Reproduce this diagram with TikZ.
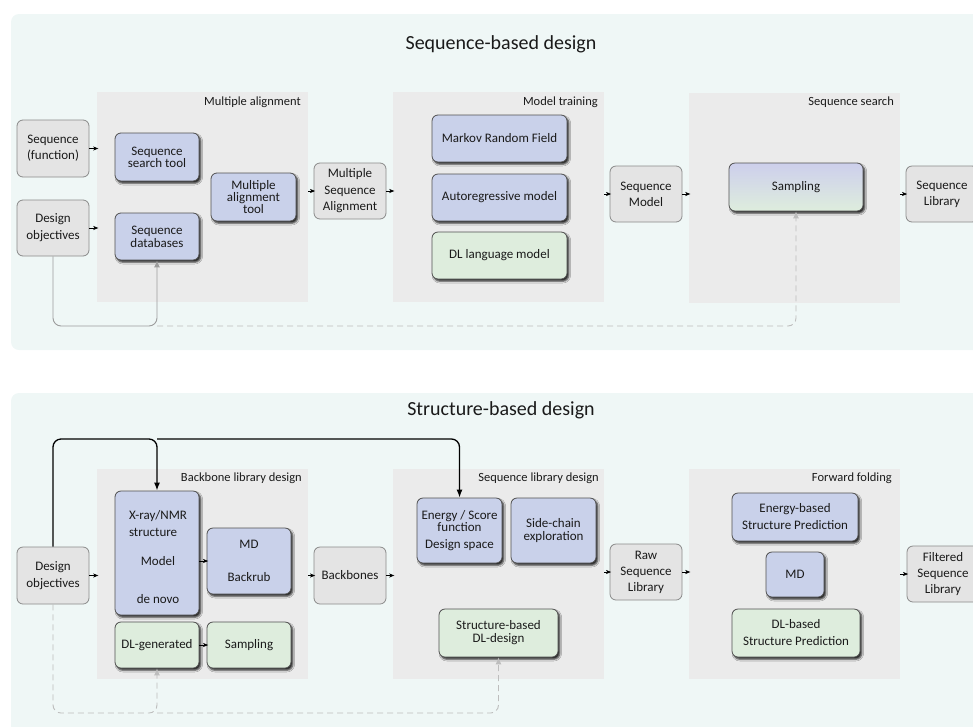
\documentclass[tikz,border=0pt]{standalone}
\usepackage{fontspec}
\setmainfont{Carlito}
\usetikzlibrary{arrows.meta,shadows.blur,calc}
\definecolor{bgcol}{HTML}{EFF7F6}
\definecolor{panelcol}{HTML}{EBEBEB}
\definecolor{grayfill}{HTML}{E4E4E4}
\definecolor{graydraw}{HTML}{8A8A8A}
\definecolor{bluefill}{HTML}{C9D1EA}
\definecolor{greenfill}{HTML}{DEEDDD}
\definecolor{boxdraw}{HTML}{505050}
\definecolor{txt}{HTML}{1A1A1A}
\definecolor{solidgray}{HTML}{9C9C9C}
\definecolor{dashgray}{HTML}{BDBDBD}
\definecolor{samptop}{HTML}{CDCFEC}
\begin{document}
\begin{tikzpicture}[x=1pt,y=-1pt,
  every node/.style={text=txt},
  panel/.style={fill=panelcol, inner sep=0pt, minimum width=211pt, minimum height=210pt},
  plabel/.style={anchor=east, inner sep=0pt, font=\fontsize{12.5}{15}\selectfont},
  title/.style={inner sep=0pt, font=\fontsize{20}{24}\selectfont},
  iobox/.style={draw=graydraw, fill=grayfill, line width=0.8pt, rounded corners=6pt, inner sep=0pt, align=center,
     minimum width=72pt, minimum height=56pt, font=\fontsize{13}{16}\selectfont},
  proc/.style={draw=boxdraw, line width=0.8pt, rounded corners=6pt, inner sep=0pt, align=center,
     font=\fontsize{13}{13}\selectfont,
     blur shadow={shadow xshift=1.8pt, shadow yshift=-2.2pt, shadow blur radius=1.8pt, shadow opacity=85}},
  bluebox/.style={proc, fill=bluefill},
  greenbox/.style={proc, fill=greenfill},
  arr/.style={draw=black, line width=0.7pt, -{Stealth[length=5pt,width=4pt,inset=1.2pt]}, shorten >=-1.5pt},
  grayarr/.style={line width=0.9pt, -{Latex[length=7pt,width=6pt]}},
  solidline/.style={grayarr, draw=solidgray, rounded corners=8pt},
  dashline/.style={grayarr, draw=dashgray, dash pattern=on 6pt off 4pt, rounded corners=8pt},
  blkline/.style={draw=black, line width=1.3pt, rounded corners=8pt, -{Latex[length=8pt,width=6pt]}}
]
\useasboundingbox (0,0) rectangle (973,726);

% ---------------- backgrounds ----------------
\fill[bgcol, rounded corners=8pt] (11,14) rectangle (1010,350);
\fill[bgcol, rounded corners=8pt] (11,393) rectangle (1010,760);

% ================= Sequence-based design =================
\node[title] (t1) at (501,44) {Sequence-based design};

\node[panel] (mapanel) at (202.5,197) {};
\node[panel] (mtpanel) at (498.5,197) {};
\node[panel] (sspanel) at (794.5,197.5) {};
\node[plabel] (malab) at (301,102) {Multiple alignment};
\node[plabel] (mtlab) at (598,102) {Model training};
\node[plabel] (sslab) at (894,102) {Sequence search};

\node[iobox, minimum height=57pt] (sf) at (53,148.5) {Sequence\\(function)};
\node[iobox, font=\fontsize{13}{17}\selectfont] (do1) at (53,228) {Design\\objectives};

\node[bluebox, minimum width=84pt, minimum height=48pt, font=\fontsize{13}{12}\selectfont] (sst) at (157,157) {Sequence\\search tool};
\node[bluebox, minimum width=84pt, minimum height=47pt] (sdb) at (157,236.5) {Sequence\\databases};
\node[bluebox, minimum width=85pt, minimum height=48pt, font=\fontsize{13}{12}\selectfont] (mat) at (253.5,197) {Multiple\\alignment\\tool};

\node[iobox, font=\fontsize{13}{16.5}\selectfont] (msa) at (350,191) {Multiple\\Sequence\\Alignment};

\node[bluebox, minimum width=135pt, minimum height=47pt] (mrf) at (499.5,138.5) {Markov Random Field};
\node[bluebox, minimum width=135pt, minimum height=47pt] (arm) at (499.5,197.5) {Autoregressive model};
\node[greenbox, minimum width=135pt, minimum height=47pt] (dllm) at (499.5,255.5) {DL language model};

\node[iobox] (sm) at (646,194) {Sequence\\Model};

\node[proc, top color=samptop, bottom color=greenfill, minimum width=134pt, minimum height=48pt] (samp1) at (796,187) {Sampling};

\node[iobox] (sl) at (942,194) {Sequence\\Library};

% arrows
\draw[arr] (sf.east) -- (sf.east -| mapanel.west);
\draw[arr] (do1.east) -- (do1.east -| mapanel.west);
\draw[arr] (mapanel.east |- msa.west) -- (msa.west);
\draw[arr] (msa.east) -- (msa.east -| mtpanel.west);
\draw[arr] (mtpanel.east |- sm.west) -- (sm.west);
\draw[arr] (sm.east) -- (sm.east -| sspanel.west);
\draw[arr] (sspanel.east |- sl.west) -- (sl.west);

\coordinate (lowtop) at (0,326);
\draw[dashline] (sdb.south |- lowtop) -| (samp1.south);
\draw[solidline] (do1.south) |- (sdb.south |- lowtop) -- (sdb.south);

% ================= Structure-based design =================
\node[title] (t2) at (501,410) {Structure-based design};

\node[panel] (bbpanel) at (202.5,574) {};
\node[panel] (slpanel) at (498.5,574) {};
\node[panel] (ffpanel) at (794.5,574) {};
\node[plabel] (bblab) at (302,478) {Backbone library design};
\node[plabel] (sllab) at (599,478) {Sequence library design};
\node[plabel] (fflab) at (892,478) {Forward folding};

\node[iobox, minimum height=57pt, font=\fontsize{13}{17}\selectfont] (do2) at (53,575.5) {Design\\objectives};

\node[bluebox, minimum width=84pt, minimum height=124pt] (xray) at (157,553) {};
\node[inner sep=0pt, align=left, font=\fontsize{13}{17}\selectfont] (xraytxt) at (158,524) {X-ray/NMR\\structure};
\node[inner sep=0pt, font=\fontsize{13}{16}\selectfont] (modeltxt) at (158,561) {Model};
\node[inner sep=0pt, font=\fontsize{13}{16}\selectfont] (denovotxt) at (158,599) {de novo};

\node[bluebox, minimum width=84pt, minimum height=66pt, font=\fontsize{13}{16}\selectfont] (mdbr) at (249,561) {MD\\[17pt]Backrub};
\node[greenbox, minimum width=84pt, minimum height=46pt] (dlg) at (157,645) {DL-generated};
\node[greenbox, minimum width=84pt, minimum height=46pt] (samp2) at (249,645) {Sampling};

\node[iobox, minimum height=57pt] (bb) at (350,575.5) {Backbones};

\node[bluebox, minimum width=85pt, minimum height=65pt, font=\fontsize{13}{11}\selectfont] (energy) at (459.5,530.5) {Energy / Score\\function\\[6pt]Design space};
\node[bluebox, minimum width=85pt, minimum height=65pt] (side) at (553.5,530.5) {Side-chain\\exploration};
\node[greenbox, minimum width=119pt, minimum height=48pt] (sbdl) at (498.5,633) {Structure-based\\DL-design};

\node[iobox, font=\fontsize{13}{16}\selectfont] (rsl) at (646,572) {Raw\\Sequence\\Library};

\node[bluebox, minimum width=126pt, minimum height=48pt, font=\fontsize{13}{17}\selectfont] (ebsp) at (795,517) {Energy-based\\Structure Prediction};
\node[bluebox, minimum width=58pt, minimum height=45pt] (md) at (795,574.5) {MD};
\node[greenbox, minimum width=128pt, minimum height=48pt, font=\fontsize{13}{17}\selectfont] (dlsp) at (796,633) {DL-based\\Structure Prediction};

\node[iobox, font=\fontsize{13}{16}\selectfont] (fsl) at (943,574) {Filtered\\Sequence\\Library};

% arrows
\draw[arr] (do2.east) -- (do2.east -| bbpanel.west);
\draw[arr] (xray.east |- mdbr.west) -- (mdbr.west);
\draw[arr] (dlg.east) -- (samp2.west);
\draw[arr] (bbpanel.east |- bb.west) -- (bb.west);
\draw[arr] (bb.east) -- (bb.east -| slpanel.west);
\draw[arr] (slpanel.east |- rsl.west) -- (rsl.west);
\draw[arr] (rsl.east) -- (rsl.east -| ffpanel.west);
\draw[arr] (ffpanel.east |- fsl.west) -- (fsl.west);

\coordinate (hightop) at (0,439);
\coordinate (lowbot) at (0,713);
\draw[dashline] (dlg.south |- lowbot) -| (sbdl.south);
\draw[dashline] (do2.south) |- (dlg.south |- lowbot) -- (dlg.south);
\draw[blkline] (xray.north |- hightop) -| (energy.north);
\draw[blkline] (do2.north) |- (xray.north |- hightop) -- (xray.north);
\end{tikzpicture}
\end{document}
